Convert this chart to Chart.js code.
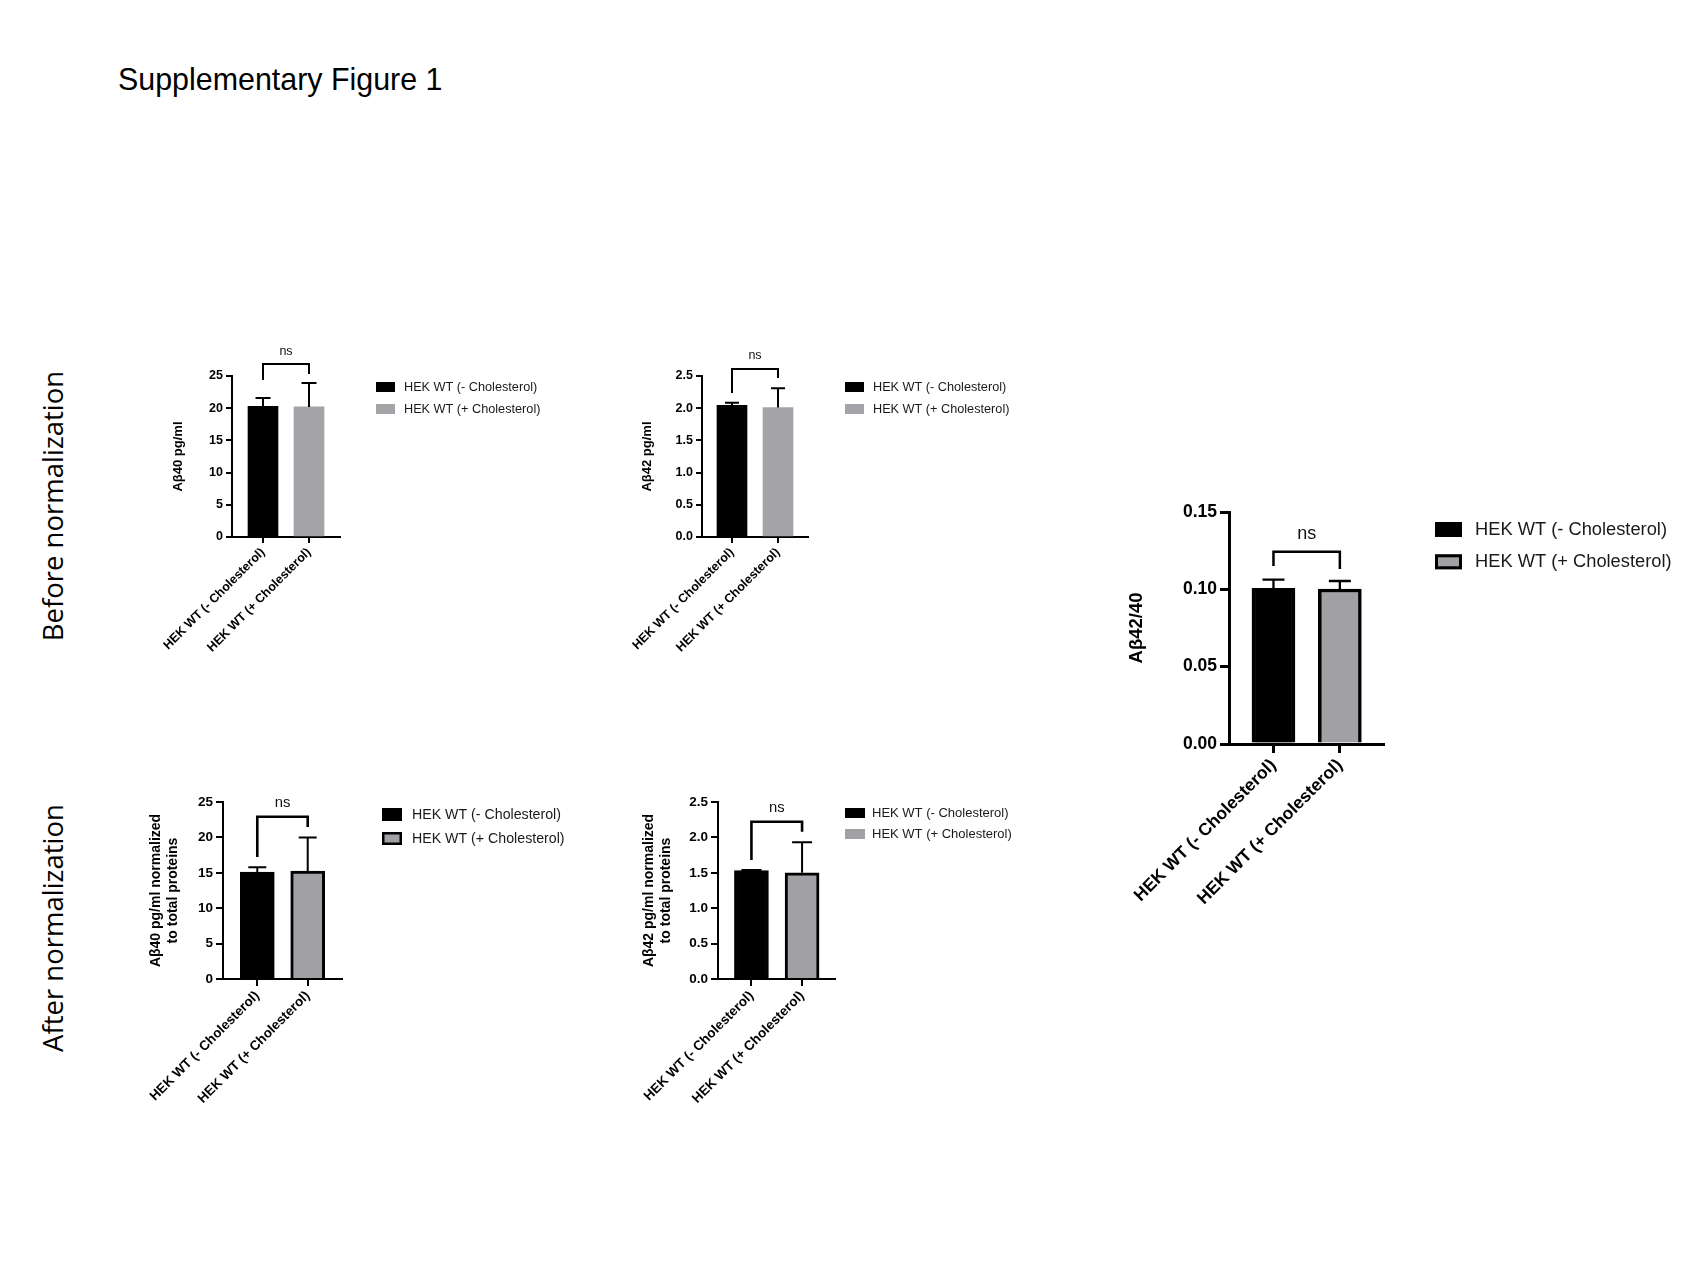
<!DOCTYPE html>
<html><head><meta charset="utf-8">
<script src="https://cdn.jsdelivr.net/npm/chart.js@4.4.1/dist/chart.umd.min.js"></script>
<style>
html,body{margin:0;padding:0;background:#fff;}
body{width:1707px;height:1280px;position:relative;overflow:hidden;font-family:'Liberation Sans',Arial,sans-serif;}
canvas{position:absolute;}
#title{position:absolute;left:118px;top:63px;font-size:32px;line-height:32px;transform:scaleX(0.95);transform-origin:0 0;white-space:nowrap;color:#000;}
.rowlab{position:absolute;font-family:'Open Sans',sans-serif;font-size:27.5px;white-space:nowrap;line-height:1;transform:translate(-50%,-50%) rotate(-90deg);color:#000;}
</style></head><body>
<div id="title">Supplementary Figure 1</div>
<div class="rowlab" style="left:53px;top:506px">Before normalization</div>
<div class="rowlab" style="left:53px;top:928px">After normalization</div>
<canvas id="c1"></canvas><canvas id="c2"></canvas><canvas id="c3"></canvas><canvas id="c4"></canvas><canvas id="c5"></canvas>
<script>
// ---------- DATA ----------
const categories = ['HEK WT (- Cholesterol)', 'HEK WT (+ Cholesterol)'];
const ab40Before = [20.3, 20.2];
const ab40BeforeSD = [1.3, 3.7];
const ab42Before = [2.045, 2.01];
const ab42BeforeSD = [0.04, 0.30];
const ratio4240 = [0.1007, 0.1002];
const ratio4240SD = [0.0056, 0.0052];
const ab40After = [15.1, 15.25];
const ab40AfterSD = [0.7, 4.75];
const ab42After = [1.53, 1.50];
const ab42AfterSD = [0.01, 0.43];
const ticks0to25 = [0, 5, 10, 15, 20, 25];
const ticks0to25Labels = ['0', '5', '10', '15', '20', '25'];
const ticks0to2p5 = [0, 0.5, 1.0, 1.5, 2.0, 2.5];
const ticks0to2p5Labels = ['0.0', '0.5', '1.0', '1.5', '2.0', '2.5'];
const ticksRatio = [0, 0.05, 0.10, 0.15];
const ticksRatioLabels = ['0.00', '0.05', '0.10', '0.15'];
const significance = ['ns', 'ns', 'ns', 'ns', 'ns'];

// ---------- LAYOUT / STYLE ----------
const FONT = "'Liberation Sans', Arial, sans-serif";
Chart.defaults.font.family = FONT;
const panels = [
  {id:'c1', values:ab40Before, sd:ab40BeforeSD, yTicks:ticks0to25, yLabels:ticks0to25Labels, yTitle:'Aβ40 pg/ml', sig:significance[0],
   axisL:232, axisR:340, top:376, bottom:537, yW:61, padLeft:30, padTop:45, padRight:215, xH:125,
   xMin:-0.674, xMax:1.674, barW:30, gray:'#a3a3a8', barBorder:0, lineW:2, tickLen:6,
   tickFont:12.5, titleFont:13, xFont:12.5,
   leg:{font:12.7, box:[19,10], dx:36, dy:6, gap:22, tdx:28, border:[0,0], bw:0},
   br:{top:26.86, l:24.38, r:25.31, ns:28.73, font:12.5, lw:2}, capW:15, errW:2},
  {id:'c2', values:ab42Before, sd:ab42BeforeSD, yTicks:ticks0to2p5, yLabels:ticks0to2p5Labels, yTitle:'Aβ42 pg/ml', sig:significance[1],
   axisL:702, axisR:808, top:376, bottom:537, yW:62, padLeft:30, padTop:45, padRight:215, xH:125,
   xMin:-0.652, xMax:1.652, barW:30, gray:'#a3a3a8', barBorder:0, lineW:2, tickLen:6,
   tickFont:12.5, titleFont:13, xFont:12.5,
   leg:{font:12.7, box:[19,10], dx:37, dy:6, gap:22, tdx:28, border:[0,0], bw:0},
   br:{top:2.61, l:2.236, r:2.469, ns:2.81, font:12.5, lw:2}, capW:14, errW:2},
  {id:'c3', values:ratio4240, sd:ratio4240SD, yTicks:ticksRatio, yLabels:ticksRatioLabels, yTitle:'Aβ42/40', sig:significance[2],
   axisL:1229, axisR:1383, top:512, bottom:744, yW:103, padLeft:20, padTop:30, padRight:320, xH:190,
   xMin:-0.67, xMax:1.65, barW:43, gray:'#a0a0a5', barBorder:3.5, lineW:3, tickLen:9,
   tickFont:17.5, titleFont:18.5, xFont:17.5,
   leg:{font:18.3, box:[27,15], dx:52, dy:10, gap:32.3, tdx:40, border:[0,1], bw:3},
   br:{top:0.1243, l:0.1151, r:0.1131, ns:0.136, font:18, lw:2.5}, capW:22, errW:2.3},
  {id:'c4', values:ab40After, sd:ab40AfterSD, yTicks:ticks0to25, yLabels:ticks0to25Labels, yTitle:['Aβ40 pg/ml normalized','to total proteins'], sig:significance[3],
   axisL:223, axisR:342, top:802, bottom:979, yW:75, padLeft:20, padTop:30, padRight:235, xH:140,
   xMin:-0.68, xMax:1.68, barW:34, gray:'#a0a0a5', barBorder:3, lineW:2, tickLen:7,
   tickFont:13.5, titleFont:14, xFont:13.5,
   leg:{font:14.2, box:[20,13], dx:40, dy:6, gap:24, tdx:30, border:[1,1], bw:2.5},
   br:{top:22.92, l:17.23, r:21.47, ns:24.9, font:14.8, lw:2.6}, capW:18, errW:2},
  {id:'c5', values:ab42After, sd:ab42AfterSD, yTicks:ticks0to2p5, yLabels:ticks0to2p5Labels, yTitle:['Aβ42 pg/ml normalized','to total proteins'], sig:significance[4],
   axisL:718, axisR:835, top:802, bottom:979, yW:77, padLeft:20, padTop:30, padRight:190, xH:140,
   xMin:-0.66, xMax:1.65, barW:34, gray:'#a0a0a5', barBorder:3, lineW:2, tickLen:7,
   tickFont:13.5, titleFont:14, xFont:13.5,
   leg:{font:13, box:[20,10], dx:10, dy:6, gap:21, tdx:27, border:[0,0], bw:0},
   br:{top:2.222, l:1.681, r:2.08, ns:2.41, font:14.8, lw:2.6}, capW:20, errW:2}
];

const decor = {
  id: 'decor',
  afterDatasetsDraw(chart, args, o) {
    const ctx = chart.ctx, xs = chart.scales.x, ys = chart.scales.y;
    ctx.save();
    ctx.strokeStyle = '#000'; ctx.lineWidth = o.errW; ctx.lineCap = 'butt';
    o.values.forEach((v, i) => {
      const px = xs.getPixelForValue(i);
      const y0 = ys.getPixelForValue(v), y1 = ys.getPixelForValue(v + o.sd[i]);
      ctx.beginPath();
      ctx.moveTo(px, y0); ctx.lineTo(px, y1);
      ctx.moveTo(px - o.capW / 2, y1); ctx.lineTo(px + o.capW / 2, y1);
      ctx.stroke();
    });
    const b = o.br;
    const x0 = xs.getPixelForValue(0), x1 = xs.getPixelForValue(1);
    const yt = ys.getPixelForValue(b.top);
    ctx.lineWidth = b.lw; ctx.lineJoin = 'miter';
    ctx.beginPath();
    ctx.moveTo(x0, ys.getPixelForValue(b.l)); ctx.lineTo(x0, yt); ctx.lineTo(x1, yt); ctx.lineTo(x1, ys.getPixelForValue(b.r));
    ctx.stroke();
    ctx.fillStyle = '#111'; ctx.font = b.font + 'px ' + FONT;
    ctx.textAlign = 'center'; ctx.textBaseline = 'middle';
    ctx.fillText(o.sig, (x0 + x1) / 2, ys.getPixelForValue(b.ns));
    ctx.restore();
  },
  afterDraw(chart, args, o) {
    const ctx = chart.ctx, ca = chart.chartArea, L = o.leg;
    ctx.save();
    chart.data.datasets.forEach((ds, i) => {
      const bx = ca.right + L.dx, by = ca.top + L.dy + i * L.gap;
      ctx.fillStyle = ds.backgroundColor;
      ctx.fillRect(bx, by, L.box[0], L.box[1]);
      if (L.border[i]) {
        ctx.strokeStyle = '#000'; ctx.lineWidth = L.bw;
        ctx.strokeRect(bx + L.bw / 2, by + L.bw / 2, L.box[0] - L.bw, L.box[1] - L.bw);
      }
      ctx.fillStyle = '#1a1a1a'; ctx.font = L.font + 'px ' + FONT;
      ctx.textAlign = 'left'; ctx.textBaseline = 'middle';
      ctx.fillText(ds.label, bx + L.tdx, by + L.box[1] / 2 + 0.5);
    });
    ctx.restore();
  }
};

panels.forEach(p => {
  const cv = document.getElementById(p.id);
  const W = p.padLeft + p.yW + (p.axisR - p.axisL) + p.padRight;
  const H = p.padTop + (p.bottom - p.top) + p.xH;
  cv.width = W; cv.height = H;
  cv.style.width = W + 'px'; cv.style.height = H + 'px';
  cv.style.left = (p.axisL - p.yW - p.padLeft) + 'px';
  cv.style.top = (p.top - p.padTop) + 'px';
  const colors = ['#000000', p.gray];
  new Chart(cv, {
    type: 'bar',
    data: {
      datasets: categories.map((c, i) => ({
        label: c,
        data: [{x: i, y: p.values[i]}],
        backgroundColor: colors[i],
        borderColor: '#000',
        borderWidth: p.barBorder,
        barThickness: p.barW,
        grouped: false
      }))
    },
    options: {
      responsive: false, animation: false, devicePixelRatio: 1,
      layout: {padding: {left: p.padLeft, top: p.padTop, right: p.padRight, bottom: 0}, autoPadding: false},
      plugins: {legend: {display: false}, tooltip: {enabled: false}, decor: p},
      scales: {
        x: {
          type: 'linear', min: p.xMin, max: p.xMax, offset: false,
          afterBuildTicks: s => { s.ticks = categories.map((c, i) => ({value: i})); },
          afterFit: s => { s.height = p.xH; s.paddingLeft = 0; s.paddingRight = 0; },
          ticks: {callback: v => categories[v], autoSkip: false, maxRotation: 45, minRotation: 45,
                  color: '#000', padding: 2, font: {family: FONT, size: p.xFont, weight: 'bold'}},
          grid: {display: true, offset: false, drawOnChartArea: false, drawTicks: true, tickLength: p.tickLen, color: '#000', lineWidth: p.lineW},
          border: {display: true, color: '#000', width: p.lineW}
        },
        y: {
          type: 'linear', min: 0, max: p.yTicks[p.yTicks.length - 1],
          afterBuildTicks: s => { s.ticks = p.yTicks.map(v => ({value: v})); },
          afterFit: s => { s.width = p.yW; s.paddingTop = 0; s.paddingBottom = 0; },
          ticks: {callback: (v, i) => p.yLabels[i], color: '#000', padding: 3, font: {family: FONT, size: p.tickFont, weight: 'bold'}},
          title: {display: true, text: p.yTitle, padding: 0, color: '#000', font: {family: FONT, size: p.titleFont, weight: 'bold', lineHeight: 1.2}},
          grid: {display: true, drawOnChartArea: false, drawTicks: true, tickLength: p.tickLen, color: '#000', lineWidth: p.lineW},
          border: {display: true, color: '#000', width: p.lineW}
        }
      }
    },
    plugins: [decor]
  });
});
</script>
</body></html>
